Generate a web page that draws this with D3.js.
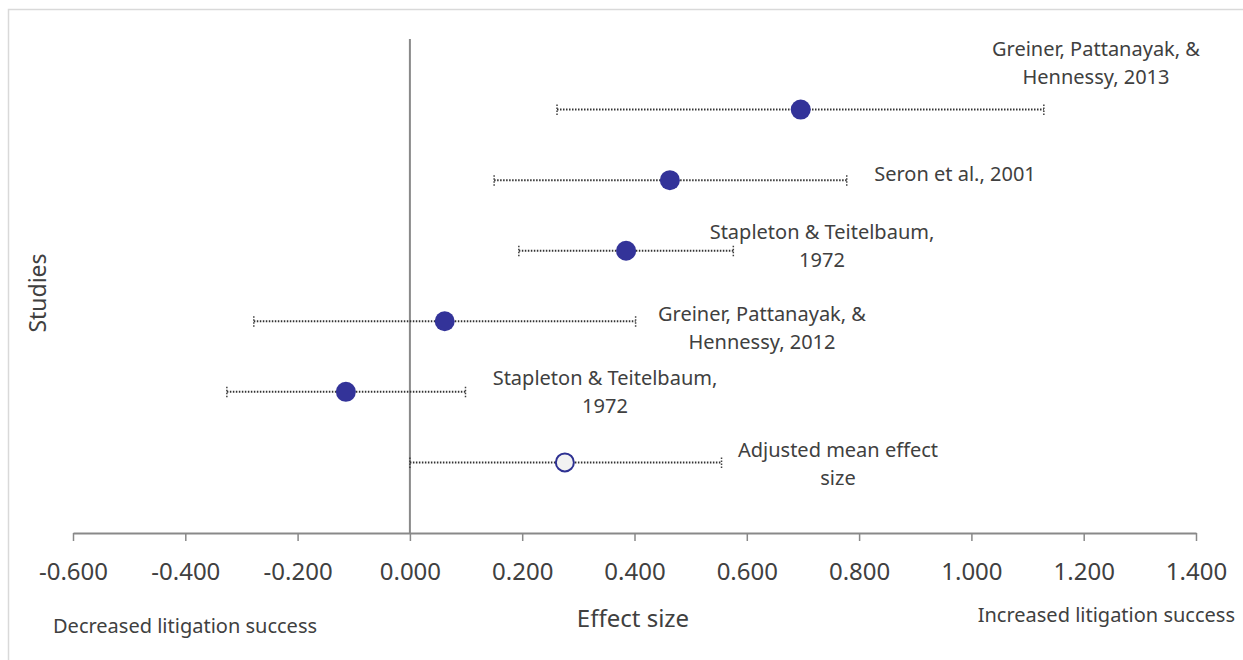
<!DOCTYPE html>
<html>
<head>
<meta charset="utf-8">
<script src="https://cdnjs.cloudflare.com/ajax/libs/d3/7.8.5/d3.min.js"></script>
<style>
  body { margin: 0; background: #fff; }
  svg text { font-family: "Segoe UI", "Noto Sans", sans-serif; fill: #404040; }
</style>
</head>
<body>
<svg id="drawing_region"></svg>
<script>
// studies, top to bottom
const studies = [
    "Greiner, Pattanayak, &\nHennessy, 2013",
    "Seron et al., 2001",
    "Stapleton & Teitelbaum,\n1972",
    "Greiner, Pattanayak, &\nHennessy, 2012",
    "Stapleton & Teitelbaum,\n1972",
    "Adjusted mean effect\nsize"
];
const row_pos = [6, 5, 4, 3, 2, 1];
const effect = [0.696, 0.463, 0.385, 0.062, -0.114, 0.276];
const ci_low = [0.262, 0.150, 0.194, -0.278, -0.326, 0.000];
const ci_high = [1.129, 0.778, 0.576, 0.402, 0.099, 0.555];
const is_summary = [false, false, false, false, false, true];
const x_ticks = [-0.6, -0.4, -0.2, 0.0, 0.2, 0.4, 0.6, 0.8, 1.0, 1.2, 1.4];

// label placement (label centre x in px, offset from row centre)
const label_layout = [
    {cx: 1096, dy: -47},
    {cx: 955, dy: -7},
    {cx: 822, dy: -5},
    {cx: 762, dy: 6},
    {cx: 605, dy: 0},
    {cx: 838, dy: 1}
];

const data = studies.map((s, i) => ({
    label: s, y: row_pos[i], x: effect[i], lo: ci_low[i], hi: ci_high[i],
    summary: is_summary[i], lay: label_layout[i]
}));

const width = 1243, height = 660;
const svg = d3.select('#drawing_region')
    .attr('width', width)
    .attr('height', height);

// chart frame (partly outside the visible window)
svg.append('rect')
    .attr('x', 8.5).attr('y', 9.5)
    .attr('width', 1300).attr('height', 700)
    .attr('fill', 'none')
    .attr('stroke', '#d9d9d9')
    .attr('stroke-width', 1.5);

const xscale = d3.scaleLinear().domain([-0.6, 1.4]).range([73, 1196]);
const yscale = d3.scaleLinear().domain([0, 7]).range([533, 39]);

// x axis
const xaxis = d3.axisBottom(xscale)
    .tickValues(x_ticks)
    .tickSizeInner(8).tickSizeOuter(0)
    .tickPadding(22)
    .tickFormat(d3.format('.3f'));

const xg = svg.append('g')
    .attr('transform', `translate(0, ${yscale(0)})`)
    .call(xaxis);
xg.select('.domain').attr('stroke', '#898989').attr('stroke-width', 2);
xg.selectAll('.tick line').attr('stroke', '#898989').attr('stroke-width', 1.5);
xg.selectAll('.tick text')
    .attr('fill', '#404040')
    .style('font-size', '24px')
    .text(d => d < 0 ? '-' + d3.format('.3f')(-d) : d3.format('.3f')(d));

// vertical line at zero
svg.append('line')
    .attr('x1', xscale(0)).attr('x2', xscale(0))
    .attr('y1', yscale(7)).attr('y2', yscale(0))
    .attr('stroke', '#898989')
    .attr('stroke-width', 2);

const rows = svg.append('g').selectAll('g')
    .data(data)
    .join('g');

// whiskers
rows.append('line')
    .attr('x1', d => xscale(d.lo)).attr('x2', d => xscale(d.hi))
    .attr('y1', d => yscale(d.y)).attr('y2', d => yscale(d.y))
    .attr('stroke', '#333333')
    .attr('stroke-width', 2)
    .attr('stroke-dasharray', '1.5,1.5');

['lo', 'hi'].forEach(k => {
    rows.append('line')
        .attr('x1', d => xscale(d[k])).attr('x2', d => xscale(d[k]))
        .attr('y1', d => yscale(d.y) - 5).attr('y2', d => yscale(d.y) + 6)
        .attr('stroke', '#404040')
        .attr('stroke-width', 1.5)
        .attr('stroke-dasharray', '1.5,1.5');
});

// points
rows.append('circle')
    .attr('cx', d => xscale(d.x))
    .attr('cy', d => yscale(d.y))
    .attr('r', d => d.summary ? 9 : 10)
    .attr('fill', d => d.summary ? '#f2f2f2' : '#333399')
    .attr('stroke', d => d.summary ? '#2e3192' : 'none')
    .attr('stroke-width', 2);

// labels
rows.each(function(d) {
    const lines = d.label.split('\n');
    const lh = 28;
    const t = d3.select(this).append('text')
        .attr('text-anchor', 'middle')
        .style('font-size', '20px');
    lines.forEach((ln, j) => {
        t.append('tspan')
            .attr('x', d.lay.cx)
            .attr('y', yscale(d.y) + d.lay.dy + (j - (lines.length - 1) / 2) * lh)
            .attr('dominant-baseline', 'central')
            .text(ln);
    });
});

// axis titles
svg.append('text')
    .attr('transform', 'translate(37, 293) rotate(-90)')
    .attr('text-anchor', 'middle')
    .attr('dominant-baseline', 'central')
    .style('font-size', '23px')
    .text('Studies');

svg.append('text')
    .attr('x', 633).attr('y', 617)
    .attr('text-anchor', 'middle')
    .attr('dominant-baseline', 'central')
    .style('font-size', '24px')
    .text('Effect size');

svg.append('text')
    .attr('x', 53).attr('y', 625)
    .attr('dominant-baseline', 'central')
    .style('font-size', '20px')
    .text('Decreased litigation success');

svg.append('text')
    .attr('x', 1235).attr('y', 614)
    .attr('text-anchor', 'end')
    .attr('dominant-baseline', 'central')
    .style('font-size', '20px')
    .text('Increased litigation success');
</script>
</body>
</html>
